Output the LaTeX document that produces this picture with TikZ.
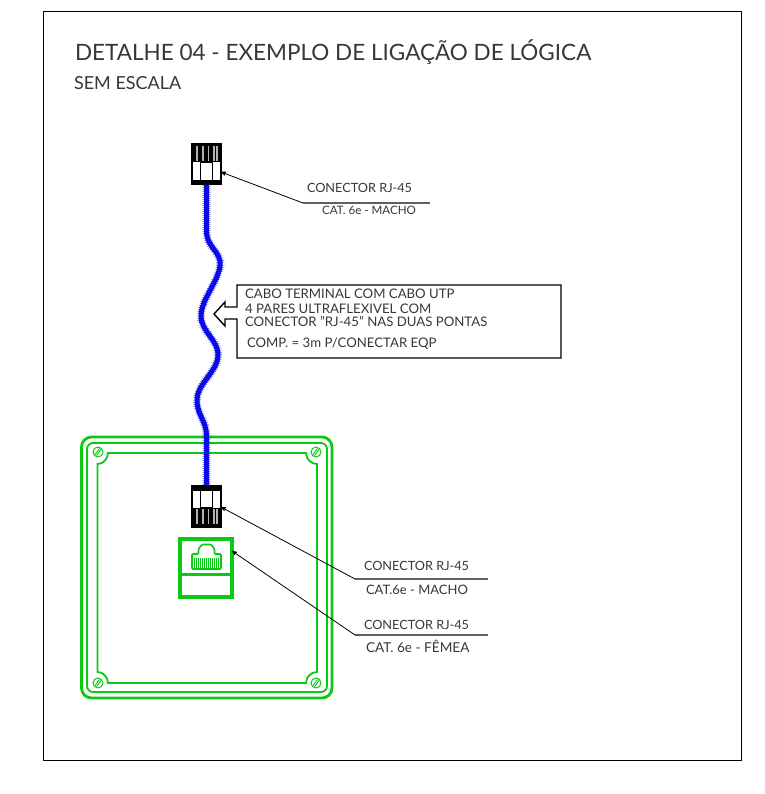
\documentclass[tikz,border=0pt]{standalone}
\usepackage{fontspec}
\setmainfont{Lato}
\usetikzlibrary{arrows, calc, decorations.pathmorphing}
\definecolor{boxgreen}{RGB}{10,200,20}
\definecolor{cableblue}{RGB}{10,10,230}
\definecolor{inkgrey}{RGB}{55,55,55}
\tikzset{
  >=stealth', % arrow heads of the leaders
  every node/.style={inner sep=0pt, outer sep=0pt, text=inkgrey},
  plug/.style={draw=black, line width=2.2pt, minimum width=29pt, minimum height=40pt},
  socket/.style={draw=boxgreen, line width=3.2pt, minimum width=52pt, minimum height=58pt},
  leader/.style={black, line width=0.8pt},
  shelf/.style={inkgrey!80, line width=1.2pt},
  label/.style={font=\fontsize{12.7}{13}\selectfont, anchor=west},
  note/.style={font=\fontsize{13.2}{13}\selectfont, anchor=west},
  cable/.style={cableblue, line width=5pt},
  fuzz/.style={cableblue, line width=0.3pt, decorate, decoration={zigzag, amplitude=3.2pt, segment length=2pt}},
  plate/.style={boxgreen, line width=1.8pt},
}

\begin{document}
\begin{tikzpicture}[x=1pt, y=-1pt]
  \useasboundingbox (0,0) rectangle (764,794);
  \draw[black, line width=0.8pt] (43,11) rectangle (741,760);

  % titles
  \node[anchor=west, font=\fontsize{22.5}{24}\selectfont] (title) at (75,52) {DETALHE 04 - EXEMPLO DE LIGAÇÃO DE LÓGICA};
  \node[anchor=west, font=\fontsize{18}{18}\selectfont] (scale) at (74,83) {SEM ESCALA};

  % green box
  \draw[plate, line width=2.8pt, rounded corners=10pt] (81.5,437) rectangle (332,698);
  \draw[plate, rounded corners=6pt] (87,443) rectangle (327,692);
  \draw[plate] (108,453) -- (306,453) .. controls (306,459) and (311,464) .. (317,464)
    -- (317,672) .. controls (311,672) and (306,677) .. (306,683)
    -- (108,683) .. controls (108,677) and (103,672) .. (97.5,672)
    -- (97.5,464) .. controls (103,464) and (108,459) .. (108,453) -- cycle;
  \foreach \sx/\sy in {98/452, 316/452, 98/683, 316/683} {
    \draw[boxgreen, line width=1pt] (\sx,\sy) circle (5pt);
    \draw[boxgreen, line width=0.9pt] (\sx-3,\sy+2.5) -- (\sx+1.5,\sy-3.5);
    \draw[boxgreen, line width=0.9pt] (\sx-1.5,\sy+3.5) -- (\sx+3,\sy-2.5);
  }

  % cable
  \coordinate (cablea) at (206.5,184);
  \coordinate (cableb) at (206.5,487);
  \def\cablepath{(cablea) -- (206.5,232) .. controls (207,248) and (222,252) .. (220,266)
    .. controls (218,282) and (201,300) .. (201,316)
    .. controls (201,332) and (219,340) .. (218,356)
    .. controls (217,372) and (197,384) .. (197,400)
    .. controls (197,416) and (206.5,420) .. (206.5,436) -- (cableb)}
  \draw[fuzz] \cablepath;
  \draw[cable] \cablepath;

  % plugs
  \node[plug] (plugtop) at (206.5,164) {};
  \node[plug] (plugbot) at (206.5,506.5) {};
  \fill[black] (plugtop.north west) rectangle (221,162.5);
  \fill[black] (plugbot.south west) rectangle (221,508);
  \fill[black] (192,180) rectangle (221,184);
  \fill[black] (192,487) rectangle (221,491);
  \foreach \px in {197, 203, 208.5, 214, 217} {
    \draw[white!70!black, line width=1.4pt] (\px,146) -- (\px,161);
    \draw[white!70!black, line width=1.4pt] (\px,509) -- (\px,524);
  }
  \draw[black, line width=1.6pt] (200.5,162.5) rectangle (212.5,181);
  \draw[black, line width=1.6pt] (200.5,490) rectangle (212.5,508);

  % jack
  \node[socket] (jack) at (206,568) {};
  \draw[boxgreen, line width=3pt] (jack.west |- 0,574) -- (jack.east |- 0,574);
  \draw[boxgreen, line width=1.6pt, rounded corners=1pt] (192,569) -- (192,554) -- (198.5,554) -- (198.5,549)
    -- (202,544.5) -- (211,544.5) -- (214.5,549) -- (214.5,554) -- (221,554) -- (221,569) -- cycle;
  \foreach \tx in {194,196,...,220} {
    \draw[boxgreen, line width=0.8pt] (\tx,558) -- (\tx,568);
  }

  % callout
  \draw[black, line width=1.4pt] (237,285) -- (561,285) -- (561,358) -- (237,358) -- (237,319) -- (225,319)
    -- (225,326) -- (214,314) -- (225,302) -- (225,307) -- (237,307) -- cycle;
  \node[note] (cablea1) at (245,294) {CABO TERMINAL COM CABO UTP};
  \node[note] (cablea2) at (245,308.5) {4 PARES ULTRAFLEXIVEL COM};
  \node[note] (cablea3) at (245,322) {CONECTOR "RJ-45" NAS DUAS PONTAS};
  \node[note] (cablea4) at (247,344) {COMP. = 3m P/CONECTAR EQP};

  % leaders
  \coordinate (shelfa) at (303,203);
  \coordinate (shelfaend) at (430,203);
  \coordinate (shelfb) at (355,579);
  \coordinate (shelfbend) at (488,579);
  \coordinate (shelfc) at (355,635);
  \coordinate (shelfcend) at (488,635);
  \draw[leader, ->] (shelfa) -- ($(plugtop.east)+(0,8)$);
  \draw[leader, ->] (shelfb) -- ($(plugbot.east)+(0,0.5)$);
  \draw[leader, ->] (shelfc) -- ($(jack.east)+(0,-17)$);
  \draw[shelf] (shelfa) -- (shelfaend);
  \draw[shelf] (shelfb) -- (shelfbend);
  \draw[shelf] (shelfc) -- (shelfcend);

  \node[label] (labela1) at (307,188) {CONECTOR RJ-45};
  \node[label, font=\fontsize{11.6}{12}\selectfont] (labela2) at (322,210) {CAT. 6e - MACHO};
  \node[label] (labelb1) at (364,566) {CONECTOR RJ-45};
  \node[label, font=\fontsize{13}{13}\selectfont] (labelb2) at (366,590) {CAT.6e - MACHO};
  \node[label] (labelc1) at (364,625) {CONECTOR RJ-45};
  \node[label, font=\fontsize{13.6}{13}\selectfont] (labelc2) at (366,646) {CAT. 6e - FÊMEA};
\end{tikzpicture}
\end{document}
